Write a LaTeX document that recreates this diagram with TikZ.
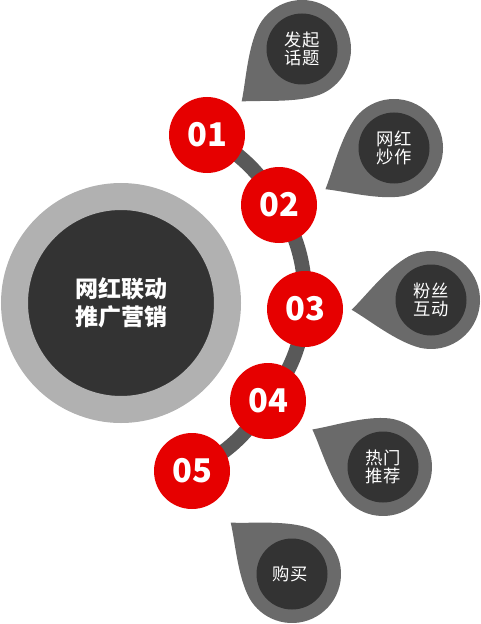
\documentclass[tikz,border=0pt]{standalone}
\usepackage{fontspec}
\setmainfont{Noto Sans CJK SC}
\usetikzlibrary{backgrounds}

\definecolor{ringgray}{HTML}{B1B1B1}
\definecolor{coregray}{HTML}{333333}
\definecolor{dropgray}{HTML}{6A6A6A}
\definecolor{spinegray}{HTML}{595959}
\definecolor{stepred}{HTML}{E60000}

\begin{document}
\begin{tikzpicture}[
  x=0.75pt,
  y=-0.75pt,
  hub/.style={
    circle,
    fill=coregray,
    draw=ringgray,
    line width=20.25pt,
    minimum size=159.75pt,
    inner sep=0pt,
    text=white,
    align=center,
    font=\bfseries\fontsize{17.25}{21}\selectfont
  },
  stepnode/.style={
    circle,
    fill=stepred,
    minimum size=57pt,
    inner sep=0pt,
    text=white,
    font=\bfseries\fontsize{24.5}{24.5}\selectfont
  },
  dropcore/.style={
    circle,
    fill=coregray,
    minimum size=53.25pt,
    inner sep=0pt,
    text=white,
    align=center,
    font=\fontsize{13}{13}\selectfont
  },
  drop/.style={
    fill=dropgray
  },
  spine/.style={
    draw=spinegray,
    line width=11pt
  }
]

\useasboundingbox (0,0) rectangle (480,624);

% Hub
\node[hub] (hub) at (121,303) {网红联动\\推广营销};

% Steps
\node[stepnode] (s1) at (207,135) {01};
\node[stepnode] (s2) at (279,205) {02};
\node[stepnode] (s3) at (305,309) {03};
\node[stepnode] (s4) at (268,401) {04};
\node[stepnode] (s5) at (192,471) {05};

% Spine
\begin{scope}[on background layer]
  \draw[spine] (s1.center) to[bend left=15] (s2.center)
    to[bend left=15] (s3.center) to[bend left=15] (s4.center)
    to[bend left=15] (s5.center);
\end{scope}

% Drops
\foreach \dx/\dy/\da/\dtext [count=\i] in {
  302/49/221/{发起\\话题},
  394/148/211/{网红\\炒作},
  431/300/187/{粉丝\\互动},
  383/467/152/{热门\\推荐},
  292/574/140/{购买}
} {
  \fill[drop, shift={(\dx,\dy)}, rotate=\da]
    (80,0) .. controls (64,12) and (40,37) .. (70:49)
    arc[start angle=70, end angle=290, radius=49]
    .. controls (40,-37) and (64,-12) .. cycle;
  \node[dropcore] (d\i) at (\dx,\dy) {\dtext};
}

\end{tikzpicture}
\end{document}
